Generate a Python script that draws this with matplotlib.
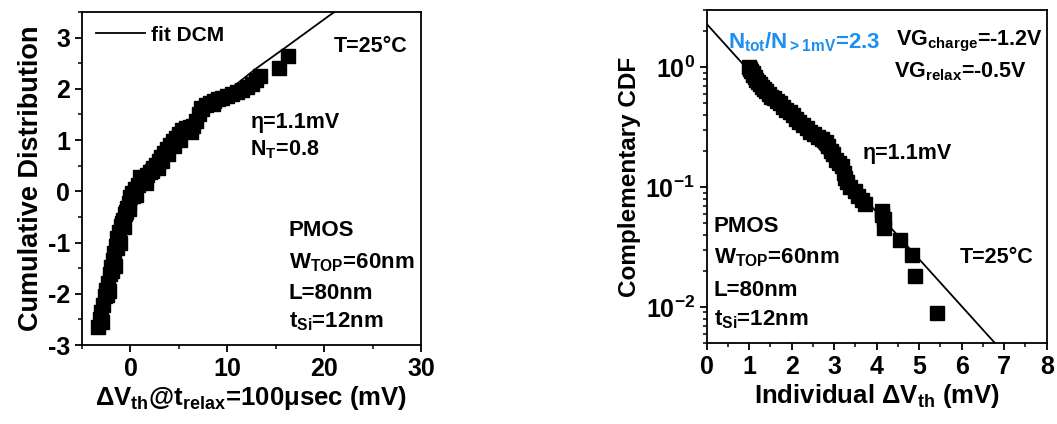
import matplotlib
matplotlib.use("Agg")
import matplotlib.pyplot as plt
from matplotlib.ticker import MultipleLocator, LogLocator, NullFormatter

plt.rcParams['font.family'] = ['Liberation Sans', 'DejaVu Sans']
plt.rcParams['font.weight'] = 'bold'
plt.rcParams['axes.labelweight'] = 'bold'
plt.rcParams['axes.unicode_minus'] = False
plt.rcParams['mathtext.fontset'] = 'custom'
plt.rcParams['mathtext.rm'] = 'Liberation Sans:bold'
plt.rcParams['mathtext.it'] = 'Liberation Sans:bold'
plt.rcParams['mathtext.bf'] = 'Liberation Sans:bold'

# left panel: cumulative distribution (probit) vs dVth at 100 usec
cdf_dvth = [-3.3, -3.1, -3.0, -2.8, -2.6, -2.5, -2.3, -2.15, -2.0, -1.85,
            -1.7, -1.5, -1.35, -1.2, -1.0, -0.8, -0.6, -0.4, -0.2, 0.0,
            0.2, 0.5, 0.8, 1.1, 1.4, 1.7, 2.0, 2.3, 2.6, 2.9,
            3.2, 3.5, 3.8, 4.1, 4.4, 4.7, 5.0, 5.3, 5.7, 6.1,
            6.5, 6.8, 7.1, 7.4, 7.8, 8.2, 8.6, 9.0, 9.5, 10.0,
            10.5, 11.0, 11.5, 12.0, 12.5, 13.0, 13.4, 15.3, 16.3,
            # scatter around the main band
            -2.4, -1.9, -1.4, -0.9, -0.5, 0.3, 1.0, 2.2, 3.3, 4.5, 5.8, 7.3, 8.5,
            -2.9, -2.2, -1.6, -1.1, -0.7, -0.1, 0.6, 1.6, 2.8, 3.9, 5.1, 6.3]
cdf_val = [-2.64, -2.50, -2.36, -2.22, -2.05, -1.92, -1.78, -1.62, -1.48, -1.34,
           -1.20, -1.06, -0.92, -0.80, -0.68, -0.56, -0.45, -0.33, -0.22, -0.12,
           -0.03, 0.05, 0.12, 0.19, 0.25, 0.32, 0.38, 0.45, 0.52, 0.59,
           0.66, 0.74, 0.82, 0.90, 0.98, 1.05, 1.12, 1.19, 1.23, 1.25,
           1.28, 1.38, 1.50, 1.60, 1.68, 1.73, 1.77, 1.80, 1.83, 1.86,
           1.89, 1.93, 1.98, 2.04, 2.10, 2.18, 2.26, 2.41, 2.64,
           -2.02, -1.55, -1.10, -0.62, -0.40, -0.10, 0.27, 0.40, 0.60, 0.88, 1.20, 1.62, 1.70,
           -2.55, -1.95, -1.45, -1.00, -0.70, -0.35, -0.08, 0.16, 0.45, 0.72, 1.00, 1.15]

# DCM fit curve
dcm_x = [-3.3, -2.0, -1.0, 0.0, 2.0, 4.0, 6.0, 8.0, 10.2, 13.0, 16.1, 20.6, 22.0]
dcm_y = [-2.6, -1.4, -0.65, -0.1, 0.42, 0.95, 1.38, 1.72, 1.98, 2.40, 2.82, 3.44, 3.62]

# right panel: complementary CDF vs individual dVth
ccdf_dvth = [1.00, 1.02, 1.05, 1.08, 1.10, 1.13, 1.17, 1.21, 1.25, 1.30,
             1.35, 1.40, 1.46, 1.52, 1.58, 1.65, 1.72, 1.80, 1.87, 1.95,
             2.02, 2.10, 2.18, 2.26, 2.35, 2.44, 2.53, 2.62, 2.72, 2.80,
             2.86, 2.92, 2.98, 3.05, 3.12, 3.18, 3.22, 3.26, 3.30, 3.38,
             3.48, 3.56, 3.65, 3.72, 4.12, 4.13, 4.16, 4.18, 4.55, 4.83,
             4.90, 5.41]
ccdf_val = [1.00, 0.96, 0.93, 0.90, 0.86, 0.83, 0.79, 0.75, 0.72, 0.69,
            0.66, 0.63, 0.60, 0.57, 0.55, 0.52, 0.50, 0.47, 0.44, 0.42,
            0.40, 0.37, 0.35, 0.33, 0.31, 0.29, 0.28, 0.26, 0.25, 0.24,
            0.22, 0.20, 0.19, 0.17, 0.16, 0.15, 0.13, 0.12, 0.11, 0.10,
            0.093, 0.085, 0.078, 0.072, 0.063, 0.058, 0.054, 0.046, 0.036, 0.027,
            0.018, 0.0089]

# exponential fit: straight line on log axis
exp_x = [0.0, 6.78]
exp_y = [2.3, 0.005]

fig = plt.figure(figsize=(10.57, 4.24), dpi=100)
ax1 = fig.add_axes([0.0776, 0.1863, 0.3207, 0.7854])
ax2 = fig.add_axes([0.6686, 0.191, 0.3217, 0.785])

for ax in (ax1, ax2):
    for s in ax.spines.values():
        s.set_linewidth(1.3)
    ax.tick_params(which='major', length=5, width=1.3, labelsize=18, direction='out')
    ax.tick_params(which='minor', length=3, width=1.1, direction='out')

# ---- left panel
ax1.plot(dcm_x, dcm_y, color='black', lw=1.3, label='fit DCM', zorder=3)
ax1.plot(cdf_dvth, cdf_val, 's', color='black', ms=10, zorder=2)
ax1.set_xlim(-5, 30)
ax1.set_ylim(-3, 3.5)
ax1.xaxis.set_major_locator(MultipleLocator(10))
ax1.xaxis.set_minor_locator(MultipleLocator(5))
ax1.yaxis.set_major_locator(MultipleLocator(1))
ax1.yaxis.set_minor_locator(MultipleLocator(0.5))
ax1.set_xlabel('ΔV$_{th}$@t$_{relax}$=100μsec (mV)', fontsize=18.5, labelpad=2)
ax1.set_ylabel('Cumulative Distribution', fontsize=19.5, labelpad=3)
ax1.legend(loc='upper left', frameon=False, fontsize=15, handlelength=2.35,
           handletextpad=0.3, borderaxespad=0.1, borderpad=0.55)

ax1.text(0.96, 0.895, 'T=25°C', transform=ax1.transAxes, fontsize=15.5,
         ha='right', va='center')
ax1.text(0.497, 0.668, 'η=1.1mV', transform=ax1.transAxes, fontsize=15.5,
         ha='left', va='center')
ax1.text(0.497, 0.585, 'N$_{T}$=0.8', transform=ax1.transAxes, fontsize=15.5,
         ha='left', va='center')
for txt, yy in [('PMOS', 0.345), ('W$_{TOP}$=60nm', 0.246),
                ('L=80nm', 0.156), ('t$_{Si}$=12nm', 0.069)]:
    ax1.text(0.61, yy, txt, transform=ax1.transAxes, fontsize=16,
             ha='left', va='center')

# ---- right panel
ax2.plot(exp_x, exp_y, color='black', lw=1.3, zorder=3)
ax2.plot(ccdf_dvth, ccdf_val, 's', color='black', ms=10, zorder=2)
ax2.set_yscale('log')
ax2.set_xlim(0, 8)
ax2.set_ylim(0.005, 3)
ax2.xaxis.set_major_locator(MultipleLocator(1))
ax2.xaxis.set_minor_locator(MultipleLocator(0.5))
ax2.yaxis.set_major_locator(LogLocator(base=10, numticks=10))
ax2.yaxis.set_minor_locator(LogLocator(base=10, subs=range(2, 10), numticks=10))
ax2.yaxis.set_minor_formatter(NullFormatter())
ax2.set_xlabel('Individual ΔV$_{th}$ (mV)', fontsize=18.5, labelpad=2)
ax2.set_ylabel('Complementary CDF', fontsize=17.5, labelpad=3)

ax2.text(0.063, 0.905, 'N$_{tot}$/N$_{>1mV}$=2.3', transform=ax2.transAxes,
         fontsize=16, color='#1e8ff0', ha='left', va='center')
ax2.text(0.99, 0.905, 'VG$_{charge}$=-1.2V', transform=ax2.transAxes,
         fontsize=15.5, ha='right', va='center')
ax2.text(0.94, 0.815, 'VG$_{relax}$=-0.5V', transform=ax2.transAxes,
         fontsize=15.5, ha='right', va='center')
ax2.text(0.46, 0.57, 'η=1.1mV', transform=ax2.transAxes, fontsize=15.5,
         ha='left', va='center')
ax2.text(0.96, 0.258, 'T=25°C', transform=ax2.transAxes, fontsize=15.5,
         ha='right', va='center')
for txt, yy in [('PMOS', 0.35), ('W$_{TOP}$=60nm', 0.255),
                ('L=80nm', 0.158), ('t$_{Si}$=12nm', 0.07)]:
    ax2.text(0.02, yy, txt, transform=ax2.transAxes, fontsize=16,
             ha='left', va='center')

fig.savefig('out.png', dpi=100)
